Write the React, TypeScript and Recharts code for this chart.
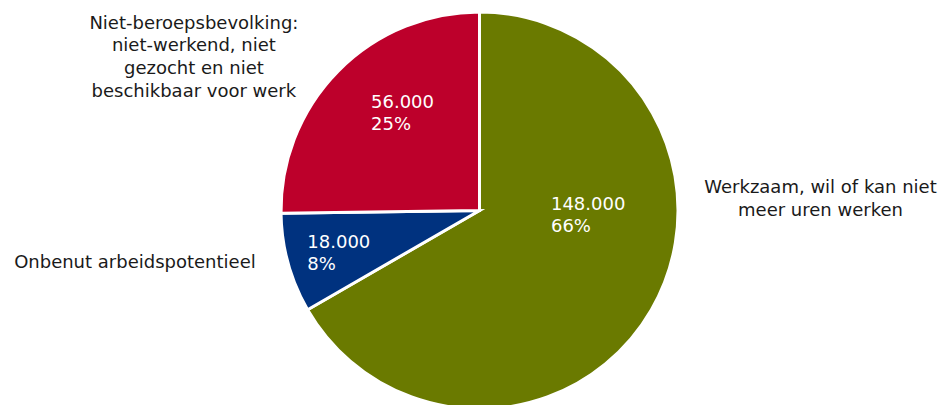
import React from 'react'
import { PieChart, Pie, Cell } from 'recharts'

// slices, clockwise from 12 o'clock
const categories = [
  ['Werkzaam, wil of kan niet', 'meer uren werken'],
  ['Onbenut arbeidspotentieel'],
  ['Niet-beroepsbevolking:', 'niet-werkend, niet', 'gezocht en niet', 'beschikbaar voor werk'],
]
const values = [148000, 18000, 56000]
const percentLabels = ['66%', '8%', '25%']
const colors = ['#6a7a00', '#00327f', '#bd002b']

// label placement: angle in degrees (0 = 3 o'clock, counter-clockwise), r = share of the radius
const valueLabelPos = [
  { angle: 0.4, r: 0.36 },
  { angle: 192.4, r: 0.888 },
  { angle: 136.7, r: 0.751 },
]
const nameLabelPos = [
  { angle: 2.9, r: 1.72 },
  { angle: 189.5, r: 1.76 },
  { angle: 147.5, r: 1.706 },
]

const data = values.map((v, i) => ({ name: categories[i].join(' '), value: v }))

const FONT = '"DejaVu Sans", Verdana, sans-serif'

const fmt = (v: number) => String(v).replace(/\B(?=(\d{3})+(?!\d))/g, '.')

const renderLabel = (props: any) => {
  const { cx, cy, outerRadius, index } = props
  const at = (p: { angle: number; r: number }) => {
    const a = (p.angle * Math.PI) / 180
    return [cx + Math.cos(a) * p.r * outerRadius, cy - Math.sin(a) * p.r * outerRadius]
  }
  const [vx, vy] = at(valueLabelPos[index])
  const [nx, ny] = at(nameLabelPos[index])
  return (
    <g>
      <text x={vx} y={vy} fill="#ffffff" fontSize={18} fontFamily={FONT} textAnchor="start">
        <tspan x={vx} dy={0}>{fmt(values[index])}</tspan>
        <tspan x={vx} dy={21.7}>{percentLabels[index]}</tspan>
      </text>
      <text x={nx} y={ny} fill="#1a1a1a" fontSize={18} fontFamily={FONT} textAnchor="middle">
        {categories[index].map((line, i) => (
          <tspan key={i} x={nx} dy={i === 0 ? 0 : 22.7}>{line}</tspan>
        ))}
      </text>
    </g>
  )
}

const App: React.FC = () => {
  return (
    <div style={{ position: 'absolute', left: 0, top: 0, width: 951, height: 405, background: '#fff' }}>
      <PieChart width={951} height={405} margin={{ top: 0, right: 0, bottom: 0, left: 0 }}>
        <Pie
          data={data}
          dataKey="value"
          nameKey="name"
          cx={479.5}
          cy={210.5}
          outerRadius={198.5}
          startAngle={90}
          endAngle={-270}
          stroke="#ffffff"
          strokeWidth={3}
          label={renderLabel}
          labelLine={false}
          isAnimationActive={false}
        >
          {data.map((d, i) => (
            <Cell key={d.name} fill={colors[i]} />
          ))}
        </Pie>
      </PieChart>
    </div>
  )
}

export default App
